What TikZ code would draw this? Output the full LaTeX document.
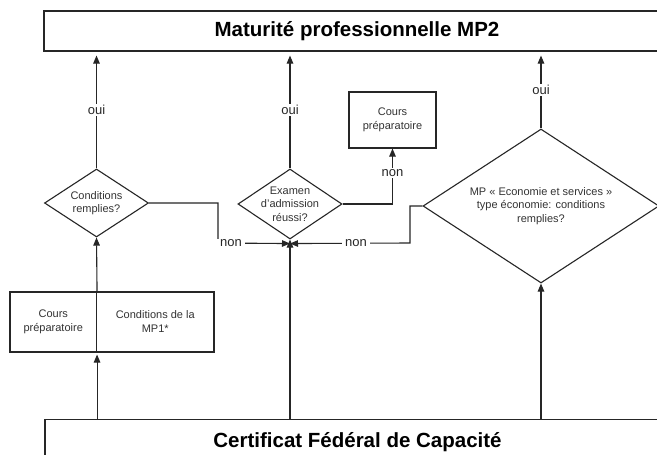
\documentclass[tikz,border=0pt]{standalone}
\usepackage{fontspec}
\setmainfont{Liberation Sans}
\usetikzlibrary{shapes.geometric,arrows.meta}
\begin{document}
\begin{tikzpicture}[x=1pt,y=-1pt,
  ln/.style={draw=black!85, line width=1.1pt},
  arr/.style={ln, -{Triangle[length=8pt,width=6.5pt]}},
  box/.style={draw=black!85, line width=1.1pt, inner sep=0pt, align=center,
    font=\fontsize{11}{14}\selectfont, text=black!80},
  dia/.style={shape=diamond, draw=black!85, line width=1.1pt, inner sep=-12pt, align=center,
    font=\fontsize{11}{13.5}\selectfont, text=black!80},
  big/.style={draw=black!85, line width=1.1pt, font=\bfseries\fontsize{20.5}{24}\selectfont},
  lab/.style={fill=white, inner xsep=3pt, inner ysep=1pt, font=\fontsize{13}{15}\selectfont, text=black!85}
]
\clip (0,0) rectangle (657,455);
\fill[white] (0,0) rectangle (657,455);

\node[big, minimum width=626, minimum height=40] (top) at (357,31) {Maturité professionnelle MP2};
\node[big, anchor=north, minimum width=625, inner ysep=13.3pt, text height=15pt, text depth=4pt] (bot) at (357.5,419) {Certificat Fédéral de Capacité};

\node[box, minimum width=87, minimum height=56] (cp1) at (392.5,120) {Cours\\préparatoire};
\node[box, minimum width=86.5, minimum height=60] (cp2) at (53.25,322) {Cours\\préparatoire};
\node[box, minimum width=117.5, minimum height=60] (mp1) at (155.25,322) {Conditions de la\\MP1*};

\node[dia, minimum width=104, minimum height=68] (cond) at (96.5,203) {Conditions\\remplies?};
\node[dia, minimum width=104, minimum height=70] (exam) at (290,204) {Examen\\d'admission\\réussi?};
\node[dia, minimum width=236, minimum height=154] (econ) at (541,206) {MP « Economie et services »\\type économie: conditions\\remplies?};

\coordinate (m) at ([yshift=-4pt]exam.south);
\coordinate (c1) at (218,243);
\coordinate (c2) at (410,243);

\draw[arr, shorten >=4pt] (cond.north) -- node[lab]{oui} (cond.north |- top.south);
\draw[arr, shorten >=4pt] (exam.north) -- node[lab]{oui} (exam.north |- top.south);
\draw[arr, shorten >=4pt] (econ.north) -- node[lab]{oui} (econ.north |- top.south);

\draw[arr] (cond.east) -| (c1) -- node[lab, pos=0.18]{non} (m);
\draw[arr] (econ.west) -| (c2) -- node[lab, pos=0.45]{non} (m);
\draw[arr] (exam.east) -| node[lab, pos=0.78]{non} (cp1.south);

\draw[arr] (bot.north -| exam.south) -- (exam.south);
\draw[arr] (bot.north -| econ.south) -- (econ.south);
\draw[arr, shorten >=2pt] (bot.north -| cp2.east) -- (cp2.south east);
\draw[arr] (cp2.north east) -- (cond.south);
\end{tikzpicture}
\end{document}
